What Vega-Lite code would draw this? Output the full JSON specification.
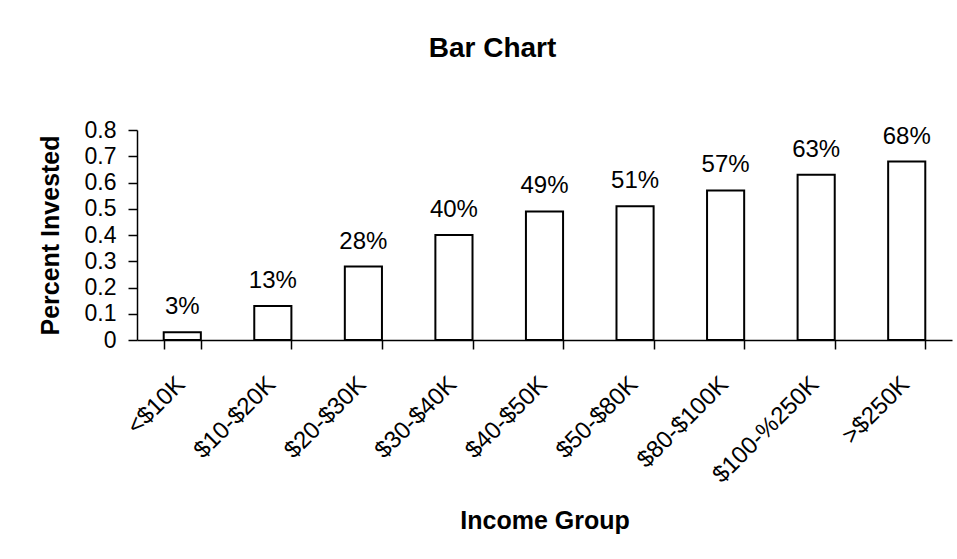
{
  "$schema": "https://vega.github.io/schema/vega-lite/v6.json",
  "width": 815,
  "height": 210,
  "autosize": {"type": "none"},
  "padding": {"left": 137, "top": 130, "right": 5, "bottom": 219},
  "background": "white",
  "title": {"text": "Bar Chart", "anchor": "middle", "frame": "group", "dx": -52, "offset": 56, "fontSize": 28, "font": "Liberation Sans", "fontWeight": "bold", "color": "black"},
  "data": {"values": [
    {"group": "<$10K", "value": 0.03},
    {"group": "$10-$20K", "value": 0.13},
    {"group": "$20-$30K", "value": 0.28},
    {"group": "$30-$40K", "value": 0.40},
    {"group": "$40-$50K", "value": 0.49},
    {"group": "$50-$80K", "value": 0.51},
    {"group": "$80-$100K", "value": 0.57},
    {"group": "$100-%250K", "value": 0.63},
    {"group": ">$250K", "value": 0.68}
  ]},
  "encoding": {
    "x": {
      "field": "group", "type": "nominal", "sort": null,
      "scale": {"paddingInner": 0.59, "paddingOuter": 0.295},
      "axis": {"title": "Income Group", "labelAngle": -45, "labelAlign": "right", "labelBaseline": "top", "labelFontSize": 24, "labelPadding": 23, "labelOffset": -10, "tickBand": "extent", "tickSize": 9, "tickWidth": 1.5, "domainWidth": 1.5, "titleFontSize": 25, "titleFontWeight": "bold", "titlePadding": 21, "labelOverlap": false, "labelLimit": 0}
    },
    "y": {
      "field": "value", "type": "quantitative",
      "scale": {"domain": [0, 0.8], "nice": false},
      "axis": {"title": "Percent Invested", "values": [0, 0.1, 0.2, 0.3, 0.4, 0.5, 0.6, 0.7, 0.8], "format": ".1~f", "labelFontSize": 23, "labelPadding": 12, "tickSize": 9, "tickWidth": 1.5, "domainWidth": 1.5, "titleFontSize": 25, "titleFontWeight": "bold", "titlePadding": 21, "labelOverlap": false}
    }
  },
  "layer": [
    {"mark": {"type": "bar", "fill": "white", "stroke": "black", "strokeWidth": 2}},
    {"mark": {"type": "text", "dy": -18, "baseline": "alphabetic", "fontSize": 24, "font": "Liberation Sans", "color": "black"},
     "encoding": {"text": {"field": "value", "type": "quantitative", "format": ".0%"}}}
  ],
  "config": {
    "view": {"stroke": null},
    "axis": {"grid": false, "domainColor": "black", "tickColor": "black", "labelColor": "black", "titleColor": "black", "labelFont": "Liberation Sans", "titleFont": "Liberation Sans"}
  }
}
